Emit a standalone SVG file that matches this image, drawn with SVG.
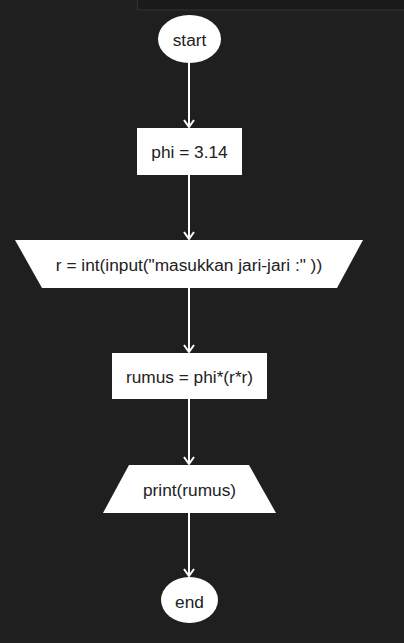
<svg xmlns="http://www.w3.org/2000/svg" width="404" height="643" viewBox="0 0 404 643">
<defs>
<style>
.shape{fill:#ffffff;stroke:none}
.lbl{font-family:"Liberation Sans",Arial,sans-serif;font-size:17.3px;fill:#222;text-anchor:middle;dominant-baseline:central}
.conn{stroke:#ffffff;stroke-width:2;fill:none}
</style>
<marker id="arr" viewBox="0 0 12 12" refX="11" refY="6" markerWidth="12" markerHeight="12" markerUnits="userSpaceOnUse" orient="auto">
<path d="M4,1 L11,6 L4,11" fill="none" stroke="#ffffff" stroke-width="2"/>
</marker>
</defs>
<rect width="404" height="643" fill="#1f1f1f"/>
<rect x="137.5" y="-5" width="280" height="15" fill="#1a1a1a" stroke="#333333" stroke-width="1"/>
<g id="connectors">
<line class="conn" x1="189" y1="63" x2="189" y2="127" marker-end="url(#arr)"/>
<line class="conn" x1="189" y1="175" x2="189" y2="239" marker-end="url(#arr)"/>
<line class="conn" x1="189" y1="288" x2="189" y2="352" marker-end="url(#arr)"/>
<line class="conn" x1="189" y1="399" x2="189" y2="464" marker-end="url(#arr)"/>
<line class="conn" x1="189" y1="513" x2="189" y2="576" marker-end="url(#arr)"/>
</g>
<g id="start">
<ellipse class="shape" cx="189.5" cy="39" rx="31.5" ry="24"/>
<text class="lbl" x="189.5" y="40">start</text>
</g>
<g id="phi">
<rect class="shape" x="137" y="128" width="105" height="47"/>
<text class="lbl" x="189.5" y="152">phi = 3.14</text>
</g>
<g id="input">
<polygon class="shape" points="15,240 363,240 337,288 42,288"/>
<text class="lbl" x="189" y="265">r = int(input("masukkan jari-jari :" ))</text>
</g>
<g id="rumus">
<rect class="shape" x="112" y="353" width="155" height="46"/>
<text class="lbl" x="189.5" y="377">rumus = phi*(r*r)</text>
</g>
<g id="print">
<polygon class="shape" points="129,465 249,465 276,513 103,513"/>
<text class="lbl" x="189.5" y="490">print(rumus)</text>
</g>
<g id="end">
<ellipse class="shape" cx="189.5" cy="600" rx="28.5" ry="23"/>
<text class="lbl" x="189.5" y="602">end</text>
</g>
</svg>
